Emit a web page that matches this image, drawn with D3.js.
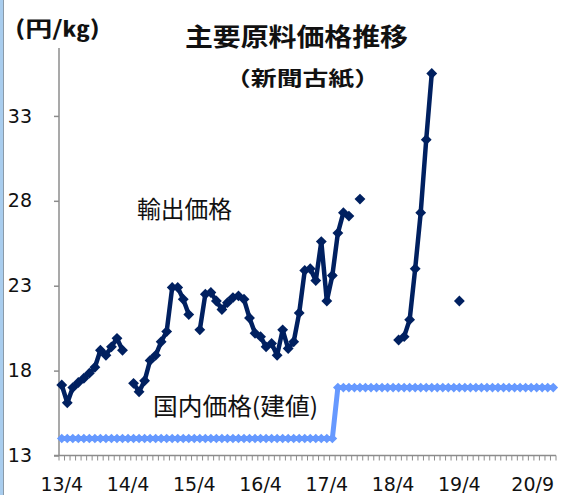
<!DOCTYPE html>
<html><head><meta charset="utf-8">
<script src="https://cdn.jsdelivr.net/npm/d3@7"></script>
<style>body{margin:0;background:#fff}svg{display:block}</style>
</head><body>
<script>
// ---- data ----
const tickLabels = ["13/4","14/4","15/4","16/4","17/4","18/4","19/4","20/9"];
const tickIndex  = [0,12,24,36,48,60,72,89];
const yTicks = [13,18,23,28,33];
// 90 monthly categories: 2013/4 .. 2020/9
const exportPrice = [
 17.15,16.1,17.0,17.3,17.55,17.85,18.2,19.2,18.9,19.4,19.9,19.2,
 null,17.25,16.75,17.4,18.6,18.9,19.7,20.3,22.9,22.9,22.2,21.3,
 null,20.4,22.5,22.6,22.1,21.6,22.0,22.3,22.4,22.2,21.1,20.2,
 20.0,19.4,19.6,18.9,20.4,19.3,19.7,21.4,23.9,24.0,23.3,25.6,
 22.1,23.6,26.1,27.3,27.1,null,28.1,null,null,null,null,null,
 null,19.8,20.0,21.0,24.0,27.3,31.6,35.5,null,null,null,null,
 22.1,null,null,null,null,null,null,null,null,null,null,null,
 null,null,null,null,null,null
];
const domesticPrice = [
 14,14,14,14,14,14,14,14,14,14,14,14,
 14,14,14,14,14,14,14,14,14,14,14,14,
 14,14,14,14,14,14,14,14,14,14,14,14,
 14,14,14,14,14,14,14,14,14,14,14,14,
 14,14,17,17,17,17,17,17,17,17,17,17,
 17,17,17,17,17,17,17,17,17,17,17,17,
 17,17,17,17,17,17,17,17,17,17,17,17,
 17,17,17,17,17,17
];
const seriesLabels = ["輸出価格","国内価格(建値)"];

// ---- layout ----
const W=578,H=495;
const svg=d3.select("body").append("svg").attr("width",W).attr("height",H);
const x=d3.scaleBand().domain(d3.range(exportPrice.length)).range([59,556]).padding(0);
const y=d3.scaleLinear().domain([13,37]).range([455.5,48]);
const cx=i=>x(i)+x.bandwidth()/2;

// chart border left
svg.append("line").attr("x1",1.5).attr("x2",1.5).attr("y1",0).attr("y2",H).attr("stroke","#a9cdee").attr("stroke-width",3);
svg.append("line").attr("x1",3.5).attr("x2",3.5).attr("y1",0).attr("y2",H).attr("stroke","#8a9aa8").attr("stroke-width",1);

// axes
const axCol="#8c8c8c";
const yAxis=svg.append("g").attr("transform","translate(59,0)")
  .call(d3.axisLeft(y).tickValues(yTicks).tickSize(5).tickFormat(d3.format("d")));
yAxis.select(".domain").attr("d",`M0,${y(13)}V48`).attr("stroke",axCol).attr("stroke-width",1.5);
yAxis.selectAll(".tick line").attr("stroke",axCol).attr("stroke-width",1.5);
yAxis.selectAll(".tick text").attr("x",-27).attr("font-family","DejaVu Sans, Verdana, sans-serif").attr("font-size",19).attr("fill","#111");

const xg=svg.append("g");
xg.append("line").attr("x1",54).attr("x2",556).attr("y1",y(13)).attr("y2",y(13)).attr("stroke",axCol).attr("stroke-width",1.5);
xg.selectAll("line.mt").data(d3.range(exportPrice.length+1)).join("line")
  .attr("x1",i=>i<exportPrice.length?x(i):x(exportPrice.length-1)+x.bandwidth())
  .attr("x2",i=>i<exportPrice.length?x(i):x(exportPrice.length-1)+x.bandwidth())
  .attr("y1",y(13)).attr("y2",y(13)+5).attr("stroke",axCol).attr("stroke-width",1);
xg.selectAll("text").data(tickIndex).join("text")
  .attr("x",(d,k)=>k===tickIndex.length-1?x(d)+x.bandwidth()-2:cx(d))
  .attr("text-anchor",(d,k)=>k===tickIndex.length-1?"end":"middle")
  .attr("y",491).attr("font-family","DejaVu Sans, Verdana, sans-serif").attr("font-size",19).attr("fill","#111")
  .text((d,k)=>tickLabels[k]);

// series
const diamond=d3.symbol().type(d3.symbolDiamond2);
function drawSeries(data,color,lw,msize){
  const line=d3.line().defined(d=>d!=null).x((d,i)=>cx(i)).y(d=>y(d));
  svg.append("path").datum(data).attr("d",line).attr("fill","none").attr("stroke",color).attr("stroke-width",lw).attr("stroke-linejoin","round");
  svg.append("g").selectAll("path").data(data.map((v,i)=>({v,i})).filter(d=>d.v!=null)).join("path")
    .attr("d",diamond.size(msize)).attr("transform",d=>`translate(${cx(d.i)},${y(d.v)})`).attr("fill",color);
}
drawSeries(domesticPrice,"#6699ff",5,60);
drawSeries(exportPrice,"#002060",4.5,75);

// texts
const jp="'Noto Sans CJK JP', sans-serif";
function txt(s,x0,y0,size,weight,len){
  return svg.append("text").attr("x",x0).attr("y",y0).attr("font-family",jp).attr("font-weight",weight)
    .attr("font-size",size).attr("fill","#111").attr("textLength",len).attr("lengthAdjust","spacingAndGlyphs").text(s);
}
txt("主要原料価格推移",185,46,25,"bold",223);
txt("（新聞古紙）",225,86,20,"bold",155);
txt("(円/㎏)",15,36,21,"bold",85);
txt(seriesLabels[0],137,218,24,"normal",95);
txt(seriesLabels[1],153,415,24,"normal",165);
</script>
</body></html>
